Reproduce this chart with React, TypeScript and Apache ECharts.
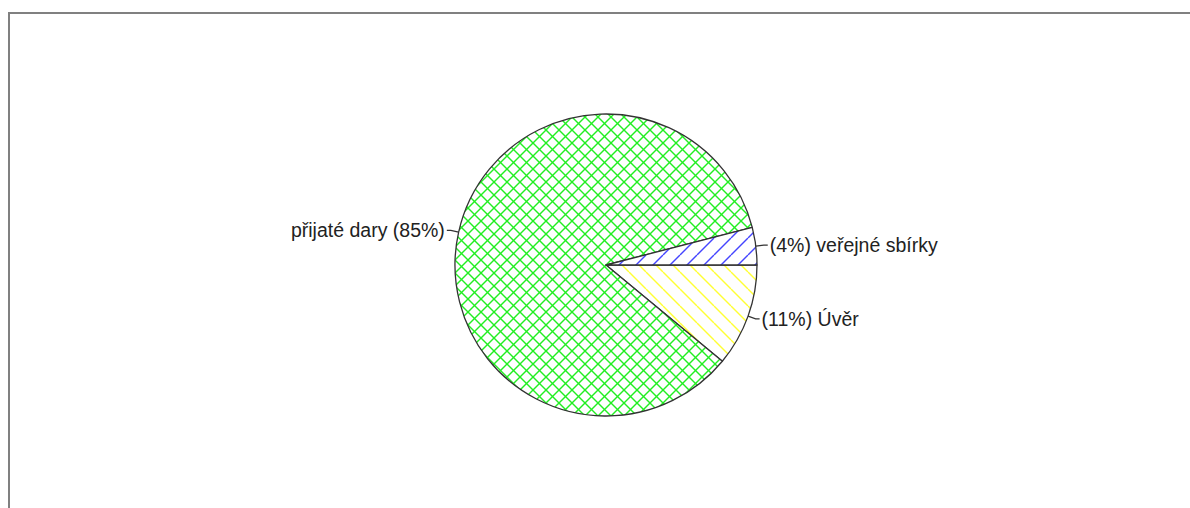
import React, { useEffect, useRef } from "react";
import * as echarts from "echarts";

const sliceNames = ["Úvěr", "přijaté dary", "veřejné sbírky"];
const sliceValues = [11, 85, 4];
const sliceColors = ["#ffff33", "#22ee22", "#4444ff"];
const sliceHatch: string[][] = [["\\"], ["/", "\\"], ["/"]];
const labelFormats = ["({d}%) {b}", "{b} ({d}%)", "({d}%) {b}"];

function makePattern(color: string, dirs: string[], P: number) {
  const c = document.createElement("canvas");
  c.width = P;
  c.height = P;
  const ctx = c.getContext("2d")!;
  ctx.fillStyle = "#ffffff";
  ctx.fillRect(0, 0, P, P);
  ctx.strokeStyle = color;
  ctx.lineWidth = 1.4;
  for (const d of dirs) {
    for (const k of [-P, 0, P]) {
      ctx.beginPath();
      if (d === "/") {
        ctx.moveTo(k, P);
        ctx.lineTo(k + P, 0);
      } else {
        ctx.moveTo(k, 0);
        ctx.lineTo(k + P, P);
      }
      ctx.stroke();
    }
  }
  return c;
}

export default function App() {
  const ref = useRef<HTMLDivElement>(null);
  useEffect(() => {
    if (!ref.current) return;
    const chart = echarts.init(ref.current, null, { renderer: "svg" });
    const periods = [17, 13, 17];
    const data = sliceNames.map((n, i) => {
      const P = periods[i];
      return {
        name: n,
        value: sliceValues[i],
        itemStyle: {
          color: {
            image: makePattern(sliceColors[i], sliceHatch[i], P),
            repeat: "repeat",
            imageWidth: P,
            imageHeight: P,
          } as any,
        },
        label: { formatter: labelFormats[i] },
      };
    });
    chart.setOption({
      animation: false,
      graphic: [
        {
          type: "rect",
          shape: { x: 9, y: 13, width: 1300, height: 600 },
          style: { fill: "none", stroke: "#808080", lineWidth: 2 },
          silent: true,
        },
      ],
      series: [
        {
          type: "pie",
          center: [606, 265],
          radius: 151,
          startAngle: 0,
          clockwise: true,
          silent: true,
          avoidLabelOverlap: false,
          itemStyle: { borderColor: "#333", borderWidth: 1.3 },
          label: {
            show: true,
            position: "outside",
            fontSize: 19.5,
            color: "#222",
            fontFamily: "Liberation Sans, Arial, sans-serif",
            distanceToLabelLine: 2,
          },
          labelLine: {
            show: true,
            length: 8,
            length2: 4,
            lineStyle: { color: "#333", width: 1.2 },
          },
          emphasis: { disabled: true },
          data,
        },
      ],
    });
    return () => chart.dispose();
  }, []);
  return (
    <div
      ref={ref}
      style={{ position: "absolute", left: 0, top: 0, width: 1190, height: 508, background: "#fff" }}
    />
  );
}
